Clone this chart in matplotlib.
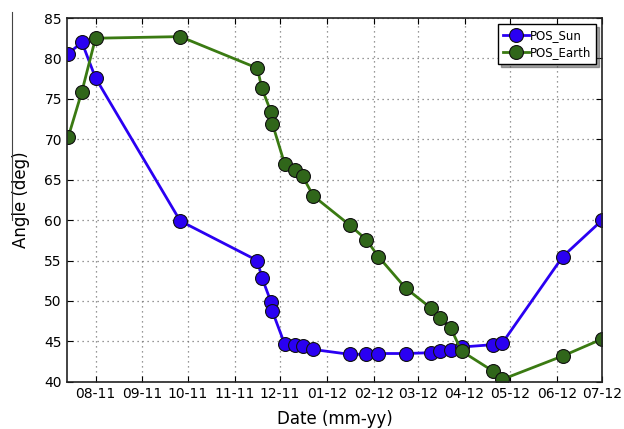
import datetime as dt
import matplotlib
matplotlib.use('Agg')
import matplotlib.pyplot as plt
import matplotlib.dates as mdates
from matplotlib.lines import Line2D

# dates of the observations
dates = ["2011-07-14", "2011-07-23", "2011-08-01", "2011-09-26", "2011-11-16",
         "2011-11-19", "2011-11-25", "2011-11-26", "2011-12-04", "2011-12-11",
         "2011-12-16", "2011-12-23", "2012-01-16", "2012-01-27", "2012-02-04",
         "2012-02-22", "2012-03-10", "2012-03-16", "2012-03-23", "2012-03-30",
         "2012-04-20", "2012-04-26", "2012-06-05", "2012-07-01"]

pos_sun = [80.6, 82.0, 77.6, 59.9, 55.0, 52.9, 49.9, 48.7, 44.7, 44.5,
           44.4, 44.0, 43.4, 43.4, 43.5, 43.5, 43.6, 43.8, 43.9, 44.3,
           44.6, 44.8, 55.5, 60.0]

pos_earth = [70.3, 75.9, 82.5, 82.7, 78.8, 76.3, 73.4, 71.9, 67.0, 66.2,
             65.4, 63.0, 59.4, 57.6, 55.5, 51.6, 49.1, 47.9, 46.6, 43.8,
             41.3, 40.3, 43.2, 45.3]

x = [dt.datetime.strptime(d, "%Y-%m-%d") for d in dates]

fig = plt.figure(figsize=(6.24, 4.29), dpi=100)
ax = fig.add_axes([0.107, 0.11, 0.858, 0.848])

ax.plot(x, pos_sun, '-o', color='#2a00f2', lw=2, ms=10,
        mfc='#2a00f2', mec='#111111', mew=0.8, label='POS_Sun')
ax.plot(x, pos_earth, '-o', color='#3a7a12', lw=2, ms=10,
        mfc='#30661a', mec='#111111', mew=0.8, label='POS_Earth')

ax.set_xlim(dt.datetime(2011, 7, 13), dt.datetime(2012, 7, 1))
ax.set_ylim(40, 85)
ax.xaxis.set_major_locator(mdates.MonthLocator())
ax.xaxis.set_major_formatter(mdates.DateFormatter('%m-%y'))

ax.grid(True, color='#777777', linestyle=(0, (1, 3)), linewidth=0.9)
ax.tick_params(direction='in', top=True, right=True, labelsize=10, length=4)
for s in ax.spines.values():
    s.set_linewidth(1.2)
    s.set_color('#222222')

ax.set_xlabel('Date (mm-yy)', fontsize=12, labelpad=7)
ax.set_ylabel('Angle (deg)', fontsize=12, labelpad=10)

leg = ax.legend(loc='upper right', numpoints=1, fontsize=8.5, fancybox=False,
                shadow=True, handlelength=2.2, handletextpad=0.1,
                borderaxespad=0.5, labelspacing=0.4)
leg.get_frame().set_edgecolor('black')
leg.get_frame().set_linewidth(1.0)

# thin stray line on the left of the original picture
fig.add_artist(Line2D([12 / 624, 12 / 624], [1 - 12 / 429, 1 - 220 / 429],
                      color='#444444', lw=0.8))

fig.savefig('out.png', dpi=100)
